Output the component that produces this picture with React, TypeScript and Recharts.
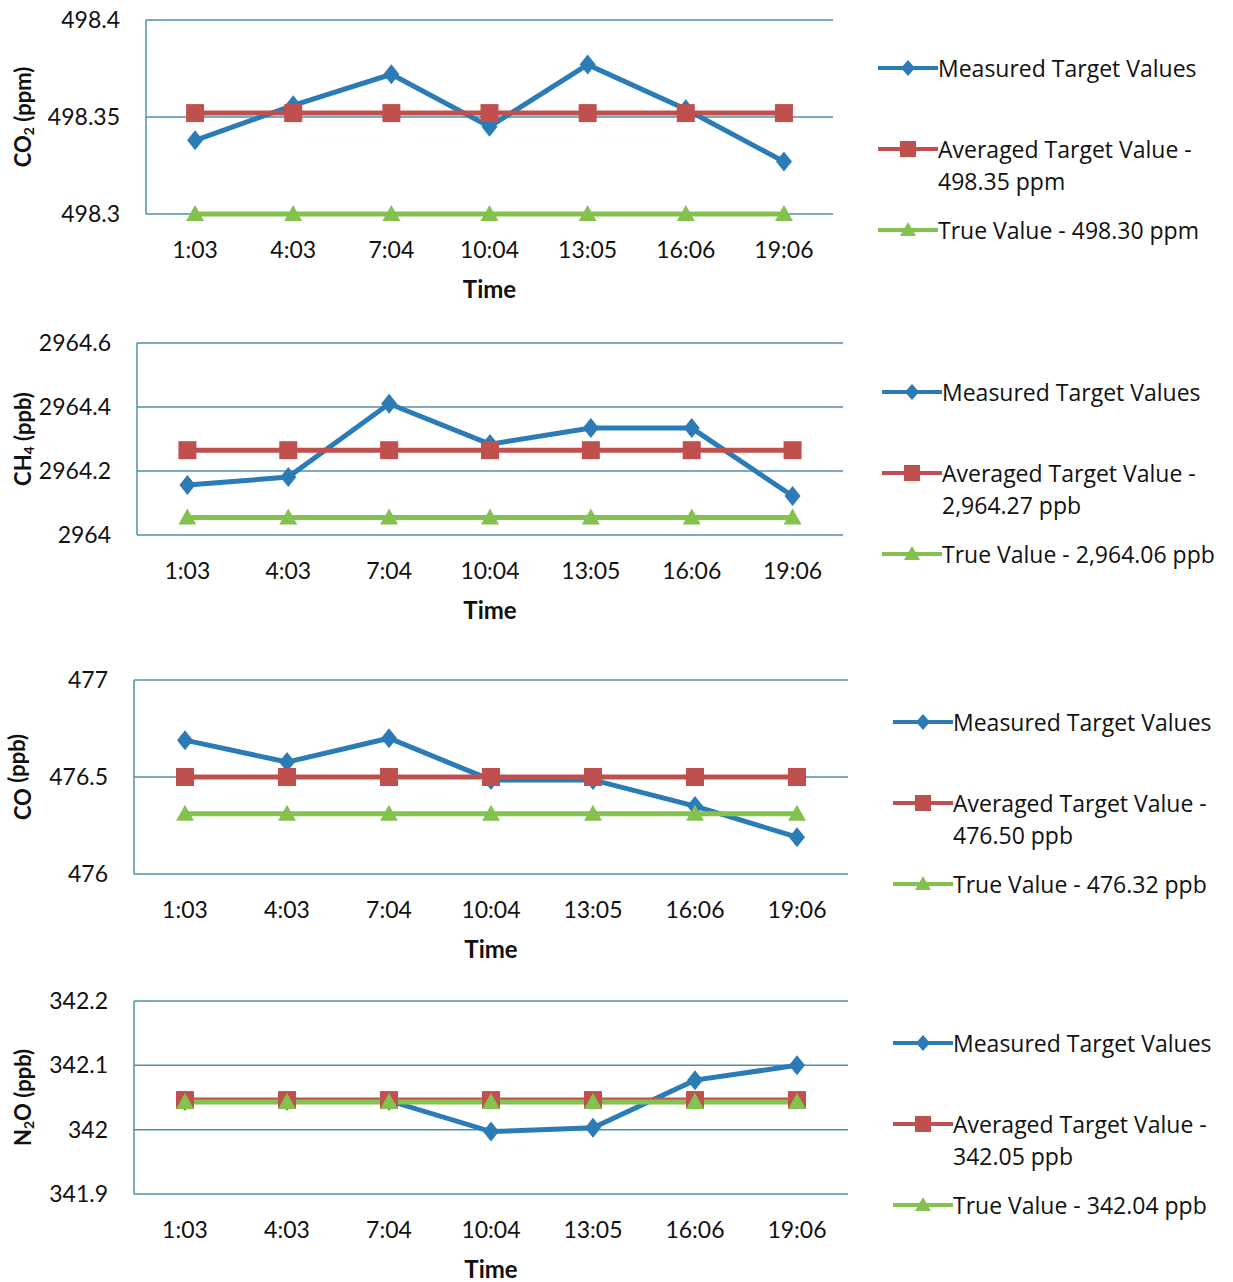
import { LineChart, Line, XAxis, YAxis, CartesianGrid, Label } from 'recharts';

const times = ['1:03', '4:03', '7:04', '10:04', '13:05', '16:06', '19:06'];

const co2Measured = [498.338, 498.356, 498.372, 498.345, 498.377, 498.354, 498.327];
const co2Averaged = [498.352, 498.352, 498.352, 498.352, 498.352, 498.352, 498.352];
const co2True = [498.3, 498.3, 498.3, 498.3, 498.3, 498.3, 498.3];
const co2Ticks = [498.3, 498.35, 498.4];
const co2Legend = ['Measured Target Values', 'Averaged Target Value -\n498.35 ppm', 'True Value - 498.30 ppm'];

const ch4Measured = [2964.156, 2964.181, 2964.41, 2964.284, 2964.334, 2964.334, 2964.122];
const ch4Averaged = [2964.265, 2964.265, 2964.265, 2964.265, 2964.265, 2964.265, 2964.265];
const ch4True = [2964.055, 2964.055, 2964.055, 2964.055, 2964.055, 2964.055, 2964.055];
const ch4Ticks = [2964, 2964.2, 2964.4, 2964.6];
const ch4Legend = ['Measured Target Values', 'Averaged Target Value -\n2,964.27 ppb', 'True Value - 2,964.06 ppb'];

const coMeasured = [476.69, 476.577, 476.7, 476.485, 476.485, 476.35, 476.19];
const coAveraged = [476.5, 476.5, 476.5, 476.5, 476.5, 476.5, 476.5];
const coTrue = [476.31, 476.31, 476.31, 476.31, 476.31, 476.31, 476.31];
const coTicks = [476, 476.5, 477];
const coLegend = ['Measured Target Values', 'Averaged Target Value -\n476.50 ppb', 'True Value - 476.32 ppb'];

const n2oMeasured = [342.045, 342.045, 342.045, 341.997, 342.003, 342.077, 342.1];
const n2oAveraged = [342.046, 342.046, 342.046, 342.046, 342.046, 342.046, 342.046];
const n2oTrue = [342.043, 342.043, 342.043, 342.043, 342.043, 342.043, 342.043];
const n2oTicks = [341.9, 342, 342.1, 342.2];
const n2oLegend = ['Measured Target Values', 'Averaged Target Value -\n342.05 ppb', 'True Value - 342.04 ppb'];

const BLUE = '#2b7bb6';
const RED = '#c0504d';
const GREEN = '#84c24f';
const GRID = '#4f90a8';
const FONT = 'Lato, "Open Sans", sans-serif';
const LEGEND_FONT = '"Open Sans", Lato, sans-serif';

const Diamond = (p: any) => (
  <path key={p.index} d={`M${p.cx},${p.cy - 10} L${p.cx + 8},${p.cy} L${p.cx},${p.cy + 10} L${p.cx - 8},${p.cy} Z`} fill={BLUE} />
);
const Square = (p: any) => <rect key={p.index} x={p.cx - 9} y={p.cy - 9} width={18} height={18} fill={RED} />;
const Triangle = (p: any) => (
  <path key={p.index} d={`M${p.cx},${p.cy - 9} L${p.cx + 9},${p.cy + 7} L${p.cx - 9},${p.cy + 7} Z`} fill={GREEN} />
);

const LegendMark = ({ color, kind }: { color: string; kind: number }) => (
  <svg width={60} height={18} style={{ flex: 'none' }}>
    <line x1={0} y1={9} x2={60} y2={9} stroke={color} strokeWidth={4} />
    {kind === 0 && <path d="M30,1 L37,9 L30,17 L23,9 Z" fill={color} />}
    {kind === 1 && <rect x={22} y={1} width={16} height={16} fill={color} />}
    {kind === 2 && <path d="M30,1 L38,15 L22,15 Z" fill={color} />}
  </svg>
);

type PanelProps = {
  top: number;
  left: number;
  right: number;
  plotH: number;
  ticks: number[];
  measured: number[];
  averaged: number[];
  truth: number[];
  legend: string[];
  gas: string;
  sub: string;
  rest: string;
  legendX: number;
  legendY: number;
};

const Panel = (pp: PanelProps) => {
  const data = times.map((t, i) => ({ time: t, measured: pp.measured[i], averaged: pp.averaged[i], truth: pp.truth[i] }));
  const pad = (pp.right - pp.left) / 14;
  const colors = [BLUE, RED, GREEN];
  return (
    <div style={{ position: 'absolute', left: 0, top: pp.top - 20, width: 1233, height: pp.plotH + 110 }}>
      <LineChart width={1233} height={pp.plotH + 110} data={data} margin={{ top: 20, right: 1233 - pp.right, left: 0, bottom: 0 }}>
        <CartesianGrid vertical={false} stroke={GRID} strokeWidth={1.5} />
        <XAxis
          dataKey="time"
          height={90}
          padding={{ left: pad, right: pad }}
          axisLine={false}
          tickLine={false}
          tickMargin={22}
          tick={{ fill: '#111', fontSize: 23, fontFamily: FONT }}
        >
          <Label value="Time" position="insideBottom" offset={6} style={{ fill: '#111', fontSize: 24, fontWeight: 700, fontFamily: FONT }} />
        </XAxis>
        <YAxis
          width={pp.left}
          domain={[pp.ticks[0], pp.ticks[pp.ticks.length - 1]]}
          ticks={pp.ticks}
          interval={0}
          tickFormatter={(v: number) => String(v)}
          axisLine={{ stroke: GRID, strokeWidth: 1.5 }}
          tickLine={false}
          tickMargin={20}
          tick={{ fill: '#111', fontSize: 23, fontFamily: FONT }}
        >
          <Label
            content={({ viewBox }: any) => {
              const cy = viewBox.y + viewBox.height / 2;
              return (
                <text x={22} y={cy} transform={`rotate(-90 22 ${cy})`} textAnchor="middle" dominantBaseline="central" fill="#111" fontSize={22} fontWeight={700} fontFamily={FONT}>
                  {pp.gas}
                  <tspan fontSize={14} dy={6}>{pp.sub}</tspan>
                  <tspan dy={-6}>{pp.rest}</tspan>
                </text>
              );
            }}
          />
        </YAxis>
        <Line dataKey="measured" name={pp.legend[0]} stroke={BLUE} strokeWidth={5} dot={Diamond} isAnimationActive={false} />
        <Line dataKey="averaged" name={pp.legend[1]} stroke={RED} strokeWidth={5} dot={Square} isAnimationActive={false} />
        <Line dataKey="truth" name={pp.legend[2]} stroke={GREEN} strokeWidth={5} dot={Triangle} isAnimationActive={false} />
      </LineChart>
      <div style={{ position: 'absolute', left: pp.legendX, top: pp.legendY, width: 360, height: 260, fontFamily: LEGEND_FONT, fontSize: 23, color: '#111' }}>
        {pp.legend.map((name, i) => (
          <div key={i} style={{ position: 'absolute', top: i * 81, left: 0, display: 'flex', alignItems: 'flex-start' }}>
            <div style={{ height: 32, display: 'flex', alignItems: 'center' }}>
              <LegendMark color={colors[i]} kind={i} />
            </div>
            <div style={{ lineHeight: '32px', whiteSpace: 'pre' }}>{name}</div>
          </div>
        ))}
      </div>
    </div>
  );
};

export default function App() {
  return (
    <div style={{ position: 'absolute', left: 0, top: 0, width: 1233, height: 1282, background: '#fff' }}>
      <Panel top={20} left={146} right={833} plotH={194} ticks={co2Ticks} measured={co2Measured} averaged={co2Averaged} truth={co2True} legend={co2Legend} gas="CO" sub="2" rest=" (ppm)" legendX={878} legendY={52} />
      <Panel top={343} left={137} right={843} plotH={192} ticks={ch4Ticks} measured={ch4Measured} averaged={ch4Averaged} truth={ch4True} legend={ch4Legend} gas="CH" sub="4" rest=" (ppb)" legendX={882} legendY={53} />
      <Panel top={680} left={134} right={848} plotH={194} ticks={coTicks} measured={coMeasured} averaged={coAveraged} truth={coTrue} legend={coLegend} gas="CO" sub="" rest=" (ppb)" legendX={893} legendY={46} />
      <Panel top={1001} left={134} right={848} plotH={193} ticks={n2oTicks} measured={n2oMeasured} averaged={n2oAveraged} truth={n2oTrue} legend={n2oLegend} gas="N" sub="2" rest="O (ppb)" legendX={893} legendY={46} />
    </div>
  );
}
